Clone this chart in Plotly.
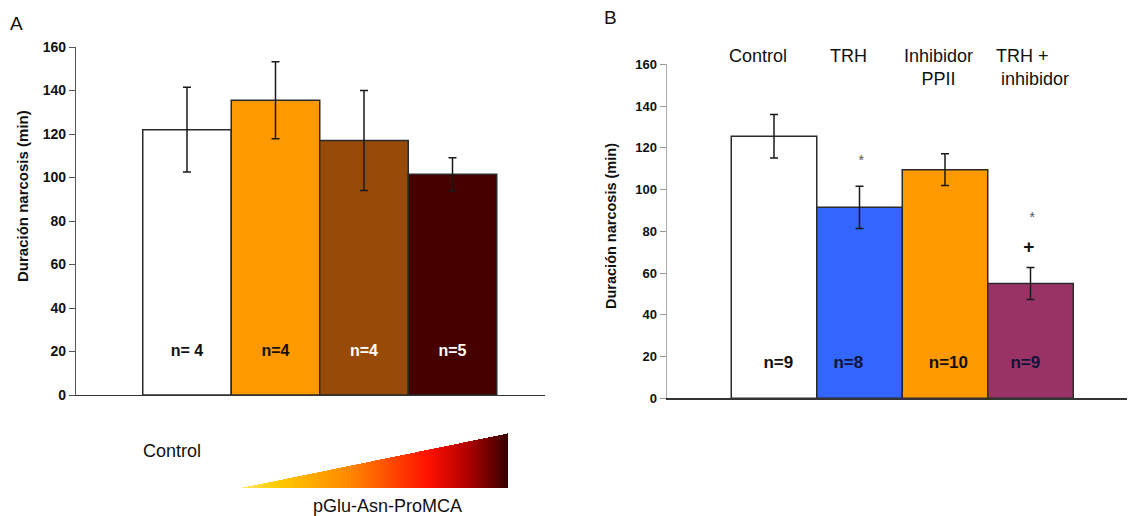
import numpy as np
import plotly.graph_objects as go

W, H = 1129, 516

# ---------------- data ----------------
# Panel A
a_groups = ["Control", "pGlu-Asn-ProMCA 1", "pGlu-Asn-ProMCA 2", "pGlu-Asn-ProMCA 3"]
a_means = [122, 135.5, 117, 101.5]
a_err = [19.5, 17.7, 23, 7.6]
a_n = ["n= 4", "n=4", "n=4", "n=5"]
a_colors = ["#FFFFFF", "#FF9900", "#984A08", "#470000"]
a_ncolors = ["#111111", "#111111", "#FFFFFF", "#FFFFFF"]

# Panel B
b_groups = ["Control", "TRH", "Inhibidor<br>PPII", "TRH +<br>\u00a0inhibidor"]
b_means = [125.5, 91.5, 109.5, 55]
b_err = [10.4, 10.1, 7.6, 7.7]
b_n = ["n=9", "n=8", "n=10", "n=9"]
b_n_shift = [0.05, -0.13, 0.04, -0.06]
b_colors = ["#FFFFFF", "#3366FF", "#FF9900", "#993366"]
b_star = ["", "*", "", "*"]
b_star_y = [0, 113.5, 0, 86]
b_plus = ["", "", "", "+"]
b_plus_y = [0, 0, 0, 72]

y_ticks = [0, 20, 40, 60, 80, 100, 120, 140, 160]

FONT = "Liberation Sans, Arial, sans-serif"

def px_x(p):
    return p / W

def px_y(p):
    return 1 - p / H

fig = go.Figure()

# ---------- Panel A bars ----------
xa = list(range(len(a_means)))
fig.add_trace(go.Bar(
    x=xa, y=a_means, width=1.0,
    marker=dict(color=a_colors, line=dict(color="#2a2a2a", width=1.5)),
    error_y=dict(type="data", array=a_err, color="#1a1a1a", thickness=1.5, width=4),
    xaxis="x", yaxis="y", showlegend=False, hoverinfo="skip",
))
fig.add_trace(go.Scatter(
    x=xa, y=[20] * len(xa), mode="text", text=a_n,
    textfont=dict(family=FONT, size=16, color=a_ncolors, weight="bold"),
    xaxis="x", yaxis="y", showlegend=False, hoverinfo="skip",
))

# ---------- Panel B bars ----------
xb = list(range(len(b_means)))
fig.add_trace(go.Bar(
    x=xb, y=b_means, width=1.0,
    marker=dict(color=b_colors, line=dict(color="#2a2a2a", width=1.5)),
    error_y=dict(type="data", array=b_err, color="#1a1a1a", thickness=1.5, width=4),
    xaxis="x2", yaxis="y2", showlegend=False, hoverinfo="skip",
))
fig.add_trace(go.Scatter(
    x=[x + s for x, s in zip(xb, b_n_shift)], y=[16.5] * len(xb), mode="text", text=b_n,
    textfont=dict(family=FONT, size=17, color=["#111111", "#10123a", "#111111", "#10123a"], weight="bold"),
    xaxis="x2", yaxis="y2", showlegend=False, hoverinfo="skip",
))
fig.add_trace(go.Scatter(
    x=[x + 0.02 for x in xb], y=b_star_y, mode="text", text=b_star,
    textfont=dict(family=FONT, size=14, color="#555555"),
    xaxis="x2", yaxis="y2", showlegend=False, hoverinfo="skip",
))
fig.add_trace(go.Scatter(
    x=[x - 0.02 for x in xb], y=b_plus_y, mode="text", text=b_plus,
    textfont=dict(family=FONT, size=19, color="#111111", weight="bold"),
    xaxis="x2", yaxis="y2", showlegend=False, hoverinfo="skip",
))

# ---------- gradient wedge (concentration ramp) ----------
nx, ny = 265, 55
gx = np.linspace(0, 1, nx)
gy = np.linspace(0, 1, ny)
gz = np.where(gy[:, None] <= gx[None, :], gx[None, :], np.nan)
fig.add_trace(go.Heatmap(
    x=gx, y=gy, z=gz, showscale=False, hoverinfo="skip",
    colorscale=[[0, "#FFE866"], [0.12, "#FFCC00"], [0.4, "#FF8800"],
                [0.7, "#FF1100"], [0.85, "#B00000"], [1, "#380000"]],
    zmin=0, zmax=1, xaxis="x3", yaxis="y3",
))

# ---------- layout ----------
a_left, a_right, a_bot, a_top = 76, 545, 395, 47
a_c0, a_bw = 187, 88.5
b_left, b_right, b_bot, b_top = 667, 1127, 398.3, 64.3
b_c0, b_bw = 774, 85.5

tickfont = dict(family=FONT, size=14, color="#111111", weight="bold")

fig.update_layout(
    width=W, height=H, margin=dict(l=0, r=0, t=0, b=0, autoexpand=False),
    paper_bgcolor="white", plot_bgcolor="white", bargap=0,
    xaxis=dict(domain=[px_x(a_left), px_x(a_right)],
               range=[(a_left - a_c0) / a_bw, (a_right - a_c0) / a_bw],
               showticklabels=False, ticks="", showgrid=False, zeroline=False,
               showline=True, linecolor="#333333", linewidth=1.2, anchor="y", fixedrange=True),
    yaxis=dict(domain=[px_y(a_bot), px_y(a_top)], range=[0, 160],
               tickvals=y_ticks, ticks="outside", ticklen=6, tickcolor="#555555",
               tickfont=tickfont, showgrid=False, zeroline=False,
               showline=True, linecolor="#555555", linewidth=1.2, anchor="x", fixedrange=True),
    xaxis2=dict(domain=[px_x(b_left), px_x(b_right)],
                range=[(b_left - b_c0) / b_bw, (b_right - b_c0) / b_bw],
                showticklabels=False, ticks="", showgrid=False, zeroline=False,
                showline=True, linecolor="#333333", linewidth=1.2, anchor="y2", fixedrange=True),
    yaxis2=dict(domain=[px_y(b_bot), px_y(b_top)], range=[0, 160],
                tickvals=y_ticks, ticks="outside", ticklen=6, tickcolor="#999999",
                tickfont=dict(family=FONT, size=13, color="#111111", weight="bold"),
                showgrid=False, zeroline=False,
                showline=True, linecolor="#aaaaaa", linewidth=1.5, anchor="x2", fixedrange=True),
    xaxis3=dict(domain=[px_x(243), px_x(508)], range=[0, 1], visible=False, anchor="y3", fixedrange=True),
    yaxis3=dict(domain=[px_y(488), px_y(433)], range=[0, 1], visible=False, anchor="x3", fixedrange=True),
)

def note(text, x, y, size, bold=False, angle=0, yanchor="middle", xanchor="center", align="center"):
    f = dict(family=FONT, size=size, color="#111111")
    if bold:
        f["weight"] = "bold"
    return dict(text=text, x=px_x(x), y=px_y(y), xref="paper", yref="paper",
                xanchor=xanchor, yanchor=yanchor, textangle=angle,
                showarrow=False, align=align, font=f)

ann = [
    note("A", 16, 24, 19),
    note("B", 611, 17, 19),
    note("Duración narcosis (min)", 22, 196, 15, bold=True, angle=-90),
    note("Duración narcosis (min)", 611, 226, 14.5, bold=True, angle=-90),
    note(a_groups[0], 172, 451, 18),
    note("pGlu-Asn-ProMCA", 387, 506, 18),
    note(b_groups[0], 758, 44, 18, yanchor="top"),
    note(b_groups[1], 848, 44, 18, yanchor="top"),
    note(b_groups[2], 938, 44, 18, yanchor="top"),
    note(b_groups[3], 994, 44, 18, yanchor="top", xanchor="left", align="left"),
]
fig.update_layout(annotations=ann)

fig.write_html("out.html", config={"displayModeBar": False, "staticPlot": True},
               post_script="document.body.style.margin = '0';")
